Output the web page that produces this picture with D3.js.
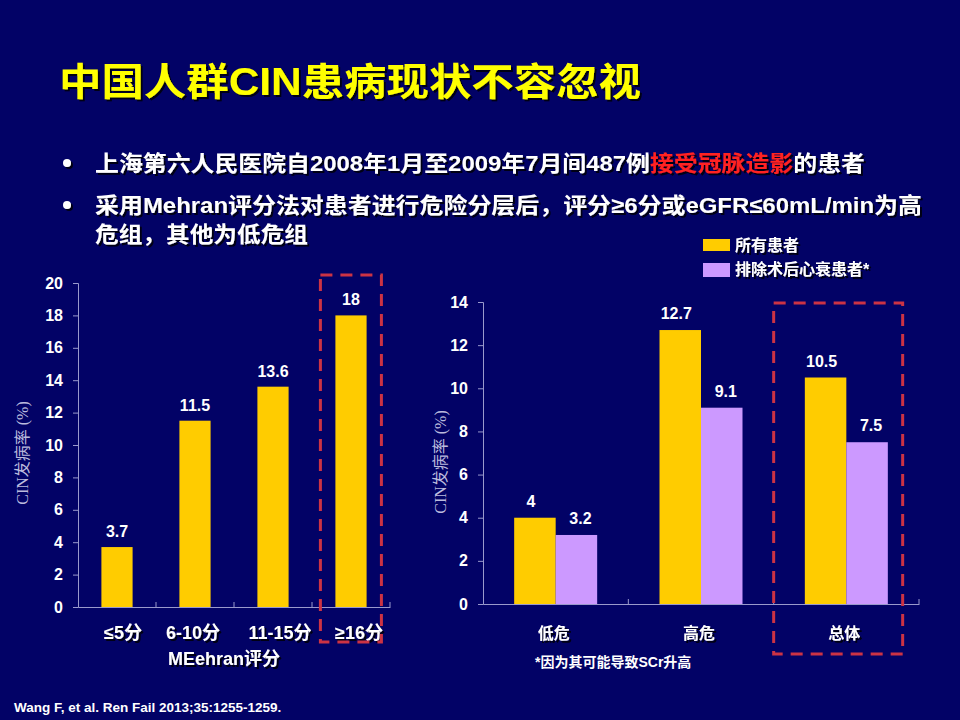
<!DOCTYPE html>
<html>
<head>
<meta charset="utf-8">
<script src="https://d3js.org/d3.v7.min.js"></script>
<style>
 body {margin:0; background:#020266;}
 text {font-family: "Liberation Sans", Arial, "Noto Sans CJK SC", sans-serif; font-weight:bold;}
</style>
</head>
<body>
<svg width=960 height=720></svg>
<script>

// left chart data
var scoreCats = ['≤5分', '6-10分', '11-15分', '≥16分'];
var scoreVals = [3.7, 11.5, 13.6, 18];
var leftTicks = [0, 2, 4, 6, 8, 10, 12, 14, 16, 18, 20];

// right chart data
var riskCats = ['低危', '高危', '总体'];
var allPatients = [4, 12.7, 10.5];
var noHeartFail = [3.2, 9.1, 7.5];
var seriesNames = ['所有患者', '排除术后心衰患者*'];
var rightTicks = [0, 2, 4, 6, 8, 10, 12, 14];

var yellow = '#ffcc00', purple = '#cc99ff', red = '#cc3344';
var svg = d3.select('svg');

svg.append('rect').attr('width', 960).attr('height', 720).attr('fill', '#020266');

// shadow filter for texts
var defs = svg.append('defs');
var f = defs.append('filter').attr('id', 'sh').attr('x', -0.1).attr('y', -0.2).attr('width', 1.3).attr('height', 1.5);
f.append('feDropShadow').attr('dx', 2).attr('dy', 2).attr('stdDeviation', 0.6).attr('flood-color', '#000').attr('flood-opacity', 0.8);

// title
svg.append('text').attr('x', 59).attr('y', 95)
  .attr('font-size', 38).attr('fill', '#ffff00').attr('filter', 'url(#sh)')
  .attr('textLength', 582).attr('lengthAdjust', 'spacingAndGlyphs')
  .text('中国人群CIN患病现状不容忽视');

// bullets
var bl = svg.append('g').attr('fill', 'white').attr('filter', 'url(#sh)');
bl.append('circle').attr('cx', 67).attr('cy', 163).attr('r', 4);
bl.append('circle').attr('cx', 67).attr('cy', 205).attr('r', 4);
var t1 = bl.append('text').attr('x', 95).attr('y', 171).attr('font-size', 22)
  .attr('textLength', 770).attr('lengthAdjust', 'spacingAndGlyphs');
t1.append('tspan').text('上海第六人民医院自2008年1月至2009年7月间487例');
t1.append('tspan').attr('fill', '#ff2020').text('接受冠脉造影');
t1.append('tspan').text('的患者');
bl.append('text').attr('x', 95).attr('y', 213).attr('font-size', 22)
  .attr('textLength', 827).attr('lengthAdjust', 'spacingAndGlyphs')
  .text('采用Mehran评分法对患者进行危险分层后，评分≥6分或eGFR≤60mL/min为高');
bl.append('text').attr('x', 95).attr('y', 242).attr('font-size', 22)
  .attr('textLength', 213).attr('lengthAdjust', 'spacingAndGlyphs')
  .text('危组，其他为低危组');

// ---------- left chart ----------
var x1 = d3.scaleBand().domain(scoreCats).range([78, 390]).paddingInner(0.6).paddingOuter(0.3);
var y1 = d3.scaleLinear().domain([0, 20]).range([607, 283]);
var xb1 = d3.scaleBand().domain(scoreCats).range([78, 390]);

var gl = svg.append('g');
gl.selectAll('rect.bar').data(scoreVals).enter().append('rect')
  .attr('x', function(d, i) { return x1(scoreCats[i]); })
  .attr('y', function(d) { return y1(d); })
  .attr('width', x1.bandwidth())
  .attr('height', function(d) { return y1(0) - y1(d); })
  .attr('fill', yellow);
gl.selectAll('text.val').data(scoreVals).enter().append('text')
  .attr('x', function(d, i) { return x1(scoreCats[i]) + x1.bandwidth() / 2; })
  .attr('y', function(d) { return y1(d) - 10; })
  .attr('text-anchor', 'middle').attr('font-size', 16).attr('fill', 'white')
  .text(function(d) { return d; });

gl.append('g').attr('transform', 'translate(78,0)')
  .call(d3.axisLeft(y1).tickValues(leftTicks).tickSize(5).tickPadding(10));
var ax1 = gl.append('g').attr('transform', 'translate(0,607)')
  .call(d3.axisBottom(xb1).tickValues([]).tickSizeOuter(0));
ax1.append('g').selectAll('line').data(scoreCats).enter().append('line')
  .attr('x1', function(d) { return xb1(d) + xb1.bandwidth(); })
  .attr('x2', function(d) { return xb1(d) + xb1.bandwidth(); })
  .attr('y1', 0).attr('y2', -5).attr('stroke', '#9999cc');

var catShift = [6, -2, 7, 8];
gl.selectAll('text.cat').data(scoreCats).enter().append('text')
  .attr('x', function(d, i) { return xb1(d) + xb1.bandwidth() / 2 + catShift[i]; })
  .attr('y', 639).attr('text-anchor', 'middle').attr('font-size', 18)
  .attr('fill', 'white').attr('filter', 'url(#sh)')
  .text(function(d) { return d; });
gl.append('text').attr('x', 224).attr('y', 665).attr('text-anchor', 'middle')
  .attr('font-size', 18).attr('fill', 'white').attr('filter', 'url(#sh)')
  .text('MEehran评分');
gl.append('text').attr('transform', 'translate(28,453) rotate(-90)')
  .attr('text-anchor', 'middle').attr('font-size', 16).attr('fill', '#bbbbdd')
  .style('font-family', '"Liberation Serif", "Noto Sans CJK SC", serif').style('font-weight', 'normal')
  .text('CIN发病率 (%)');

// ---------- right chart ----------
var x2 = d3.scaleBand().domain(riskCats).range([483, 919]);
var y2 = d3.scaleLinear().domain([0, 14]).range([604, 302]);
var inner = d3.scaleBand().domain([0, 1]).range([0, 83]);
var off = (x2.bandwidth() - 83) / 2;

var gr = svg.append('g');
var series = [allPatients, noHeartFail];
var cols = [yellow, purple];
series.forEach(function(vals, s) {
  gr.selectAll('rect.s' + s).data(vals).enter().append('rect')
    .attr('x', function(d, i) { return x2(riskCats[i]) + off + inner(s); })
    .attr('y', function(d) { return y2(d); })
    .attr('width', inner.bandwidth())
    .attr('height', function(d) { return y2(0) - y2(d); })
    .attr('fill', cols[s]);
  gr.selectAll('text.s' + s).data(vals).enter().append('text')
    .attr('x', function(d, i) { return x2(riskCats[i]) + off + inner(s) + inner.bandwidth() / 2 - (s === 0 ? 4 : -4); })
    .attr('y', function(d) { return y2(d) - 11; })
    .attr('text-anchor', 'middle').attr('font-size', 16).attr('fill', 'white')
    .text(function(d) { return d; });
});

gr.append('g').attr('transform', 'translate(483,0)')
  .call(d3.axisLeft(y2).tickValues(rightTicks).tickSize(5).tickPadding(10));
var ax2 = gr.append('g').attr('transform', 'translate(0,604)')
  .call(d3.axisBottom(x2).tickValues([]).tickSizeOuter(0));
ax2.append('g').selectAll('line').data(riskCats).enter().append('line')
  .attr('x1', function(d) { return x2(d) + x2.bandwidth(); })
  .attr('x2', function(d) { return x2(d) + x2.bandwidth(); })
  .attr('y1', 0).attr('y2', -5).attr('stroke', '#9999cc');

gr.selectAll('text.cat').data(riskCats).enter().append('text')
  .attr('x', function(d) { return x2(d) + x2.bandwidth() / 2 - 2; })
  .attr('y', 639).attr('text-anchor', 'middle').attr('font-size', 16)
  .attr('fill', 'white').attr('filter', 'url(#sh)')
  .text(function(d) { return d; });
gr.append('text').attr('x', 535).attr('y', 667).attr('font-size', 14)
  .attr('fill', 'white').text('*因为其可能导致SCr升高');
gr.append('text').attr('transform', 'translate(446,462) rotate(-90)')
  .attr('text-anchor', 'middle').attr('font-size', 16).attr('fill', '#bbbbdd')
  .style('font-family', '"Liberation Serif", "Noto Sans CJK SC", serif').style('font-weight', 'normal')
  .text('CIN发病率 (%)');

// legend
var lg = gr.append('g');
seriesNames.forEach(function(n, i) {
  lg.append('rect').attr('x', 703).attr('y', 239 + i * 24).attr('width', 27).attr('height', i ? 14 : 12).attr('fill', cols[i]);
  lg.append('text').attr('x', 735).attr('y', 251 + i * 24).attr('font-size', 16)
    .attr('fill', 'white').attr('filter', 'url(#sh)').text(n);
});

// axis styling
svg.selectAll('.domain').attr('stroke', '#9999cc');
svg.selectAll('.tick line').attr('stroke', '#9999cc');
svg.selectAll('.tick text').attr('fill', 'white').attr('font-size', 16)
  .style('font-family', '"Liberation Sans", Arial, sans-serif').style('font-weight', 'bold');

// dashed highlight boxes
svg.append('rect').attr('x', x1('≥16分') - 15).attr('y', 275).attr('width', 61).attr('height', 367)
  .attr('fill', 'none').attr('stroke', red).attr('stroke-width', 3).attr('stroke-dasharray', '12,8');
svg.append('rect').attr('x', x2('总体')).attr('y', 303).attr('width', 129).attr('height', 351)
  .attr('fill', 'none').attr('stroke', red).attr('stroke-width', 3).attr('stroke-dasharray', '12,8');

// source
svg.append('text').attr('x', 14).attr('y', 712).attr('font-size', 13.5).attr('fill', 'white')
  .text('Wang F, et al. Ren Fail 2013;35:1255-1259.');

</script>
</body>
</html>
